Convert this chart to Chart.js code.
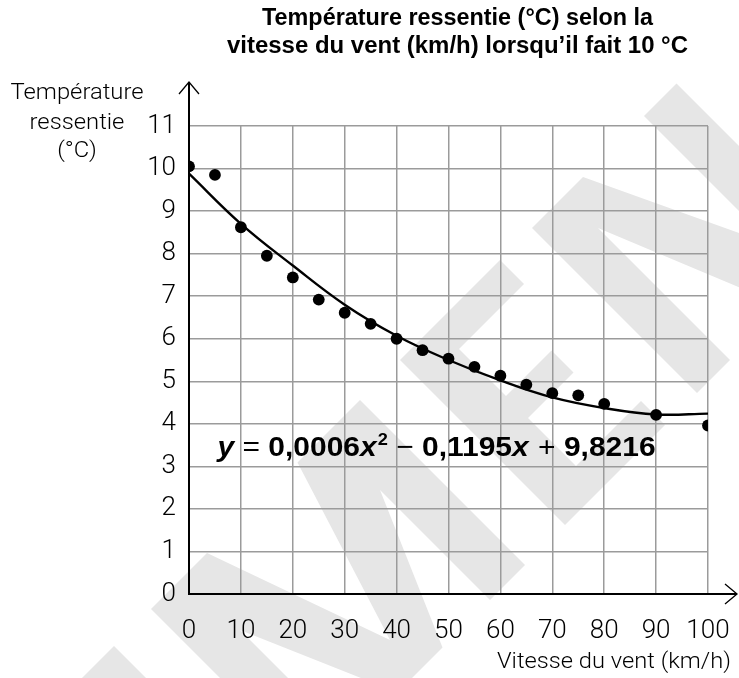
<!DOCTYPE html>
<html><head><meta charset="utf-8">
<script src="https://cdn.jsdelivr.net/npm/chart.js@4.4.1/dist/chart.umd.min.js"></script>
<style>html,body{margin:0;padding:0;background:#fff}#wrap{width:739px;height:678px}</style>
</head><body><div id="wrap"><canvas id="c" width="739" height="678"></canvas></div>
<script>
// ---- data ----
const windSpeeds = [0, 5, 10, 15, 20, 25, 30, 35, 40, 45, 50, 55, 60, 65, 70, 75, 80, 90, 100];
const feltTemps  = [10.05, 9.85, 8.62, 7.95, 7.44, 6.92, 6.61, 6.35, 6.0, 5.73, 5.53, 5.34, 5.13, 4.92, 4.72, 4.67, 4.47, 4.21, 3.96];
const curveX = [0, 10, 20, 30, 40, 50, 60, 70, 80, 90, 100];
const curveY = [9.88, 8.70, 7.72, 6.80, 6.07, 5.50, 5.02, 4.62, 4.37, 4.22, 4.24];
const xTicks = [0, 10, 20, 30, 40, 50, 60, 70, 80, 90, 100];
const yTicks = [0, 1, 2, 3, 4, 5, 6, 7, 8, 9, 10, 11];
const titleLines = ["Température ressentie (°C) selon la", "vitesse du vent (km/h) lorsqu’il fait 10 °C"];
const yTitleLines = ["Température", "ressentie", "(°C)"];
const xTitle = "Vitesse du vent (km/h)";
const equationParts = [
  {t: "y", style: "italic bold"},
  {t: " = ", style: "300"},
  {t: "0,0006", style: "bold"},
  {t: "x", style: "italic bold"},
  {t: "2", style: "bold", sup: true},
  {t: " − ", style: "300"},
  {t: "0,1195", style: "bold"},
  {t: "x", style: "italic bold"},
  {t: " + ", style: "300"},
  {t: "9,8216", style: "bold"}
];

// watermark (decoration) letters in rotated (p = x - y, q = x + y) frame
const watermark = [
  [[-600,760],[-532,760],[-532,1090],[-600,1090]],
  [[-458,760],[-346,760],[-250,1030],[-165,760],[-40,760],[-40,1090],[-110,1090],[-110,870],[-205,1090],[-295,1090],[-390,870],[-390,1090],[-458,1090]],
  [[40,760],[240,760],[240,808],[110,808],[110,902],[201,902],[201,946],[110,946],[110,1042],[240,1042],[240,1090],[40,1090]],
  [[304,760],[406,760],[528,1019],[528,760],[593,760],[593,1090],[478,1090],[370,826],[370,1090],[304,1090]]
];

const LIGHT = 'Roboto, "Liberation Sans", sans-serif';
const NARROW = '"Liberation Sans Narrow", "Liberation Sans", Roboto, sans-serif';
const BOLDF = '"Liberation Sans", Roboto, sans-serif';

function fitText(ctx, text, x, y, font, width, align) {
  ctx.save();
  ctx.font = font;
  const w = ctx.measureText(text).width;
  const s = width / w;
  ctx.textBaseline = 'middle';
  ctx.textAlign = 'left';
  let left = x;
  if (align === 'center') left = x - width / 2;
  else if (align === 'right') left = x - width;
  ctx.translate(left, y);
  ctx.scale(s, 1);
  ctx.fillText(text, 0, 0);
  ctx.restore();
}

const bgPlugin = {
  id: 'bg',
  beforeDraw(chart) {
    const ctx = chart.ctx;
    ctx.save();
    ctx.fillStyle = '#ffffff';
    ctx.fillRect(0, 0, chart.width, chart.height);
    ctx.fillStyle = '#e6e6e6';
    for (const poly of watermark) {
      ctx.beginPath();
      poly.forEach(([p, q], i) => {
        const x = (p + q) / 2, y = (q - p) / 2;
        if (i) ctx.lineTo(x, y); else ctx.moveTo(x, y);
      });
      ctx.closePath();
      ctx.fill();
    }
    ctx.restore();
  }
};

const axesPlugin = {
  id: 'axesArrows',
  beforeDatasetsDraw(chart) {
    const ctx = chart.ctx;
    const xs = chart.scales.x, ys = chart.scales.y;
    const x0 = xs.getPixelForValue(0), y0 = ys.getPixelForValue(0);
    const topY = ys.getPixelForValue(11) - 44;
    const rightX = xs.getPixelForValue(100) + 29;
    ctx.save();
    ctx.strokeStyle = '#000';
    ctx.lineWidth = 2;
    ctx.beginPath();
    ctx.moveTo(x0, y0 + 1); ctx.lineTo(x0, topY);
    ctx.moveTo(x0 - 1, y0); ctx.lineTo(rightX, y0);
    ctx.stroke();
    ctx.lineWidth = 1.3;
    ctx.beginPath();
    ctx.moveTo(x0 - 10, topY + 12); ctx.lineTo(x0, topY); ctx.lineTo(x0 + 10, topY + 12);
    ctx.moveTo(rightX - 12, y0 - 10); ctx.lineTo(rightX, y0); ctx.lineTo(rightX - 12, y0 + 10);
    ctx.stroke();
    ctx.restore();
  }
};

const textPlugin = {
  id: 'texts',
  afterDraw(chart) {
    const ctx = chart.ctx;
    const xs = chart.scales.x, ys = chart.scales.y;
    ctx.save();
    ctx.fillStyle = '#000';
    // title
    fitText(ctx, titleLines[0], 457.5, 19, 'bold 23px ' + NARROW, 391, 'center');
    fitText(ctx, titleLines[1], 457.5, 47, 'bold 23px ' + NARROW, 461, 'center');
    // y axis title (common horizontal scale)
    ctx.font = '300 22px ' + LIGHT;
    const sY = 133 / ctx.measureText(yTitleLines[0]).width;
    const yY = [93, 123, 151];
    yTitleLines.forEach((t, i) => {
      ctx.font = '300 22px ' + LIGHT;
      const w = ctx.measureText(t).width * sY;
      fitText(ctx, t, 77, yY[i], '300 22px ' + LIGHT, w, 'center');
    });
    // x axis title
    fitText(ctx, xTitle, 731, 662, '300 22px ' + LIGHT, 234, 'right');
    // equation
    const size = 28;
    let total = 0;
    const widths = equationParts.map(p => {
      ctx.font = (p.sup ? 'bold ' + Math.round(size * 0.6) + 'px ' : p.style + ' ' + size + 'px ') + BOLDF;
      const w = ctx.measureText(p.t).width + (p.t === 'x' ? 1 : 0);
      total += w;
      return w;
    });
    const target = 438;
    const sc = target / total;
    const left = xs.getPixelForValue(5.5);
    const base = ys.getPixelForValue(3.25);
    ctx.translate(left, base);
    ctx.scale(sc, 1);
    ctx.textBaseline = 'alphabetic';
    ctx.textAlign = 'left';
    let cx = 0;
    equationParts.forEach((p, i) => {
      ctx.font = (p.sup ? 'bold ' + Math.round(size * 0.6) + 'px ' : p.style + ' ' + size + 'px ') + BOLDF;
      ctx.fillText(p.t, cx, p.sup ? -size * 0.38 : 0);
      cx += widths[i];
    });
    ctx.restore();
  }
};

new Chart(document.getElementById('c'), {
  type: 'scatter',
  data: {
    datasets: [
      {
        label: 'Courbe',
        data: curveX.map((x, i) => ({x, y: curveY[i]})),
        showLine: true,
        borderColor: '#000',
        borderWidth: 2.4,
        pointRadius: 0,
        tension: 0.4,
        fill: false,
        order: 2
      },
      {
        label: 'Température ressentie',
        data: windSpeeds.map((x, i) => ({x, y: feltTemps[i]})),
        showLine: false,
        backgroundColor: '#000',
        borderColor: '#000',
        borderWidth: 0,
        pointRadius: 5.9,
        order: 1
      }
    ]
  },
  options: {
    responsive: false,
    animation: false,
    devicePixelRatio: 1,
    layout: {padding: {top: 126, right: 31, left: 0, bottom: 0}},
    plugins: {legend: {display: false}, tooltip: {enabled: false}, title: {display: false}},
    scales: {
      x: {
        type: 'linear', min: 0, max: 100,
        afterBuildTicks: s => { s.ticks = xTicks.map(v => ({value: v})); },
        afterFit: s => { s.height = 84; s.paddingLeft = 0; s.paddingRight = 0; },
        grid: {color: '#9b9b9b', lineWidth: 1.5, drawTicks: false},
        border: {display: false},
        ticks: {color: '#000', padding: 22, maxRotation: 0, autoSkip: false, font: {family: LIGHT, size: 26, weight: '300'}}
      },
      y: {
        type: 'linear', min: 0, max: 11,
        afterBuildTicks: s => { s.ticks = yTicks.map(v => ({value: v})); },
        afterFit: s => { s.width = 189; s.paddingTop = 0; s.paddingBottom = 0; },
        grid: {color: '#9b9b9b', lineWidth: 1.5, drawTicks: false},
        border: {display: false},
        ticks: {color: '#000', padding: 13, autoSkip: false, font: {family: LIGHT, size: 26, weight: '300'}}
      }
    }
  },
  plugins: [bgPlugin, axesPlugin, textPlugin]
});
</script>
</body></html>
